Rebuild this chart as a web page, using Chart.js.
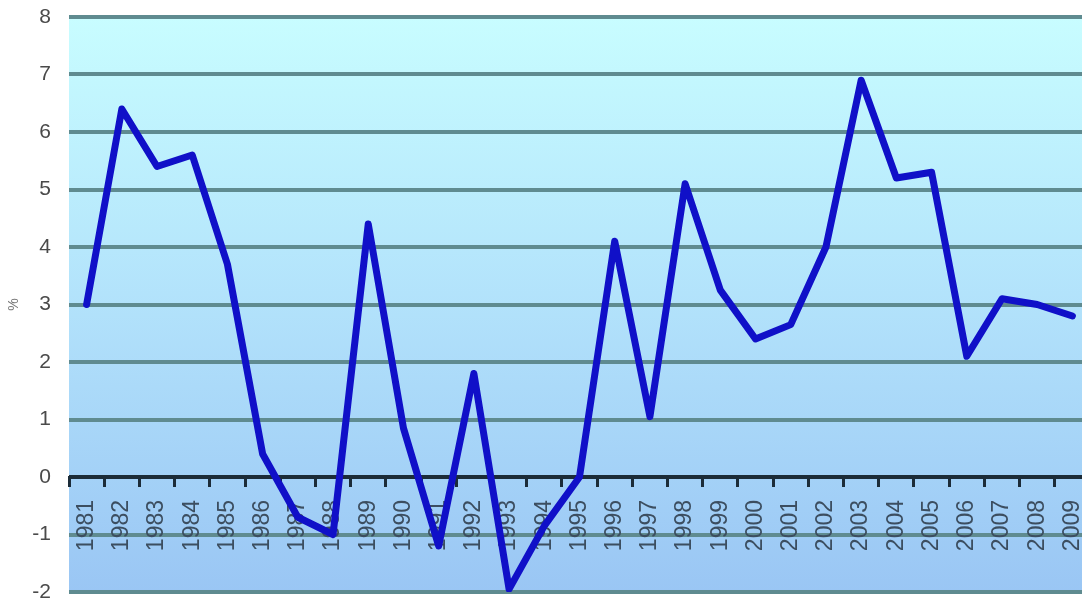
<!DOCTYPE html>
<html>
<head>
<meta charset="utf-8">
<script src="https://cdn.jsdelivr.net/npm/chart.js@4/dist/chart.umd.min.js"></script>
<style>
  html, body { margin: 0; padding: 0; background: #fff; overflow: hidden; }
  #wrap { position: relative; width: 1090px; height: 606px; }
</style>
</head>
<body>
<div id="wrap"><canvas id="chart"></canvas></div>
<script>
const years = ['1981','1982','1983','1984','1985','1986','1987','1988','1989','1990',
  '1991','1992','1993','1994','1995','1996','1997','1998','1999','2000',
  '2001','2002','2003','2004','2005','2006','2007','2008','2009']
const growth = [3.0, 6.4, 5.4, 5.6, 3.7, 0.4, -0.7, -1.0, 4.4, 0.85,
  -1.2, 1.8, -1.95, -0.85, 0.0, 4.1, 1.05, 5.1, 3.25, 2.4,
  2.65, 4.0, 6.9, 5.2, 5.3, 2.1, 3.1, 3.0, 2.8]
const yMin = -2
const yMax = 8

// light cyan to blue fill behind the plot
const plotBackground = {
  id: 'plotBackground',
  beforeDraw(chart) {
    const { ctx, chartArea: a } = chart
    const g = ctx.createLinearGradient(0, a.top, 0, a.bottom)
    g.addColorStop(0, '#c8fdff')
    g.addColorStop(0.5, '#b2e2fb')
    g.addColorStop(1, '#9ac6f4')
    ctx.save()
    ctx.fillStyle = g
    ctx.fillRect(a.left, a.top, a.right - a.left, a.bottom - a.top)
    ctx.restore()
  }
}

// keep tick labels from pushing the plot edges inwards
function noEdgePadding(scale) {
  scale.paddingTop = 0
  scale.paddingBottom = 0
  scale.paddingLeft = 0
  scale.paddingRight = 0
}

new Chart(document.getElementById('chart').getContext('2d'), {
  type: 'line',
  data: {
    labels: years,
    datasets: [{
      data: growth,
      borderColor: '#1010c8',
      borderWidth: 7,
      borderJoinStyle: 'round',
      borderCapStyle: 'round',
      pointRadius: 0,
      tension: 0,
      fill: false
    }]
  },
  options: {
    responsive: true,
    maintainAspectRatio: false,
    animation: false,
    layout: { padding: { top: 17, bottom: 14, left: 0, right: 0 } },
    plugins: {
      legend: { display: false },
      tooltip: { enabled: false }
    },
    scales: {
      x: {
        position: { y: 0 },
        offset: true,
        afterFit: noEdgePadding,
        grid: {
          offset: true,
          drawOnChartArea: false,
          drawTicks: true,
          tickLength: 8,
          tickWidth: 3,
          tickColor: '#1c2c38'
        },
        border: { display: true, color: '#1c2c38', width: 3 },
        ticks: {
          autoSkip: false,
          minRotation: 90,
          maxRotation: 90,
          padding: 15,
          color: '#3c4e60',
          font: { family: 'Liberation Sans, Arial, sans-serif', size: 23 }
        }
      },
      y: {
        min: yMin,
        max: yMax,
        afterFit(scale) {
          noEdgePadding(scale)
          scale.width = 69
        },
        border: { display: false },
        grid: {
          drawTicks: false,
          lineWidth: 4,
          color: ctx => ctx.tick && ctx.tick.value === 0 ? '#1c2c38' : '#5f8b90'
        },
        ticks: {
          stepSize: 1,
          padding: 18,
          color: '#4a4a4a',
          font: { family: 'Liberation Sans, Arial, sans-serif', size: 21 }
        },
        title: {
          display: true,
          text: '%',
          color: '#777',
          padding: { top: 6, bottom: 0 },
          font: { family: 'Liberation Sans, Arial, sans-serif', size: 14 }
        }
      }
    }
  },
  plugins: [plotBackground]
})
</script>
</body>
</html>
